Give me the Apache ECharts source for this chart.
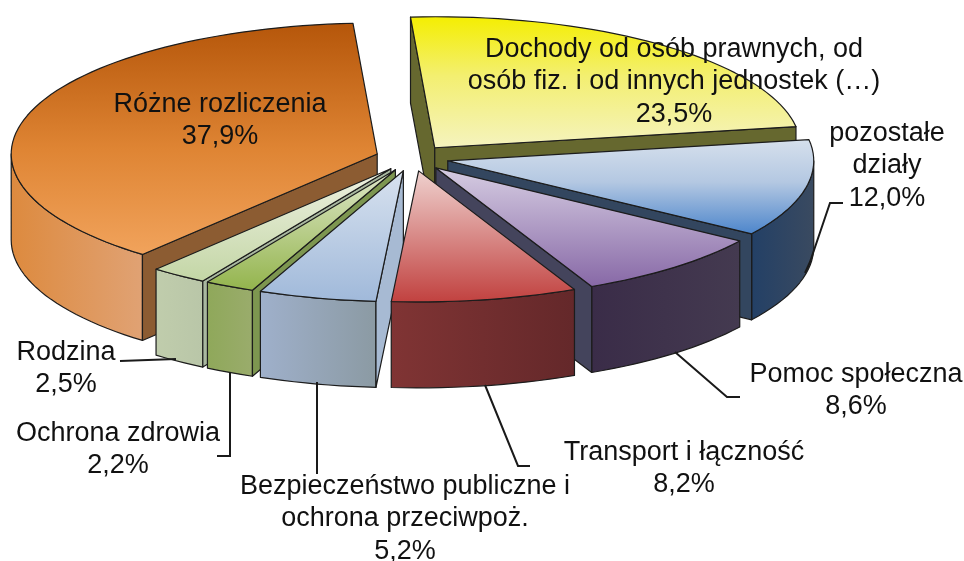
<!DOCTYPE html>
<html><head><meta charset="utf-8">
<style>html,body{margin:0;padding:0;background:#fff}#c{width:964px;height:561px}</style>
<script src="https://cdn.jsdelivr.net/npm/echarts@6/dist/echarts.min.js"></script>
</head><body><div id="c"></div>
<script>
const categories = ['Dochody od osób prawnych, od\nosób fiz. i od innych jednostek (…)','pozostałe\ndziały','Pomoc społeczna','Transport i łączność','Bezpieczeństwo publiczne i\nochrona przeciwpoż.','Ochrona zdrowia','Rodzina','Różne rozliczenia'];
const shares = [23.5,12.0,8.6,8.2,5.2,2.2,2.5,37.9];
const shareText = ['23,5%','12,0%','8,6%','8,2%','5,2%','2,2%','2,5%','37,9%'];
const drawRank = [0,2,6,7,5,4,3,1];
const topColors = [[[0,'#f4ee00'],[0.45,'#f3ef70'],[1,'#f5f3bf']],[[0,'#d6e0ec'],[0.45,'#b4c8e2'],[1,'#4c85cb']],[[0,'#d6cde2'],[1,'#8768a6']],[[0,'#efd2cf'],[1,'#c1413f']],[[0,'#d8e2ef'],[1,'#a0b9da']],[[0,'#dfe8cb'],[1,'#93b44c']],[[0,'#eef1e2'],[1,'#c3d6a5']],[[0,'#b5560a'],[0.55,'#df8534'],[1,'#f1a35c']]];
const sideColors = [['#66662f','#66662f'],['#234066','#3a4a60'],['#3a2c48','#443a50'],['#803434','#64282a'],['#9fb0cb','#8b9aa3'],['#8fa85a','#9aac6c'],['#c0cdac','#b9c6a8'],['#dd8a3e','#e0a274']];
const wallColors = ['#66682f','#33465f','#44445c','#5a2a2a','#a7bad3','#7d9650','#a9b8a0','#8c5c32'];
const labelX = [674,887,856,684,405,118,66,220];
const labelY = [33,117,358,436,470,417,336,88];
const leaders = [[[843,203],[830,203],[810,262],[805,273]],[[740,397],[727,397],[675,352]],[[530,466],[518,466],[485,385]],[[317,474],[317,382]],[[217,456],[230,456],[230,372]],[[120,361],[176,359]]];

const cx=412, cy=158, rx=366, ry=131, depth=86, explode=0.1, startDeg=-3.8;
const total=shares.reduce((a,b)=>a+b,0);
const rad=d=>d*Math.PI/180;
const starts=[];let acc=startDeg;
shares.forEach(s=>{starts.push(acc);acc+=s/total*360;});

function stops(a){return a.map(s=>({offset:s[0],color:s[1]}));}
function renderItem(params,api){
  const i=params.dataIndex, share=api.value(0);
  const t1=starts[i], t2=t1+share/total*360, mid=(t1+t2)/2;
  const ax=cx+explode*rx*Math.sin(rad(mid)), ay=cy-explode*ry*Math.cos(rad(mid));
  const pt=(t,dz)=>[ax+rx*Math.sin(rad(t)),ay-ry*Math.cos(rad(t))+(dz||0)];
  const arc=(a,b,dz)=>{const n=Math.max(2,Math.ceil(Math.abs(b-a)/2)),o=[];for(let k=0;k<=n;k++)o.push(pt(a+(b-a)*k/n,dz));return o;};
  const stroke='#1c1c1c', base=drawRank[i]*10, kids=[];
  const poly=(points,fill,z)=>kids.push({type:'polygon',z2:base+z,shape:{points},style:{fill,stroke,lineWidth:1.2,lineJoin:'round'},silent:true});
  const lo=Math.max(t1,90), hi=Math.min(t2,270);
  if(hi>lo){
    poly(arc(lo,hi,0).concat(arc(hi,lo,depth)),new echarts.graphic.LinearGradient(0,0,1,0,[{offset:0,color:sideColors[i][0]},{offset:1,color:sideColors[i][1]}]),1);
  }
  const wall=(t)=>poly([[ax,ay],pt(t,0),pt(t,depth),[ax,ay+depth]],wallColors[i],2);
  if(Math.sin(rad(t1))<0) wall(t1);
  if(Math.sin(rad(t2))>0) wall(t2);
  poly([[ax,ay]].concat(arc(t1,t2,0)),new echarts.graphic.LinearGradient(0,0,0,1,stops(topColors[i])),3);
  return {type:'group',children:kids};
}

const graphics=[];
leaders.forEach(p=>graphics.push({type:'polyline',z:5,shape:{points:p},style:{fill:null,stroke:'#1a1a1a',lineWidth:2},silent:true}));
categories.forEach((c,i)=>graphics.push({type:'text',z:10,x:labelX[i],y:labelY[i],style:{text:c+'\n'+shareText[i],fill:'#111',font:'27px "Liberation Sans", Arial, sans-serif',textAlign:'center',textVerticalAlign:'top',lineHeight:32.5},silent:true}));

const chart=echarts.init(document.getElementById('c'),null,{renderer:'canvas'});
chart.setOption({animation:false,backgroundColor:'#fff',
  series:[{type:'custom',coordinateSystem:'none',renderItem,data:shares.map((s,i)=>({name:categories[i],value:[s]})),silent:true,z:2}],
  graphic:graphics});
</script></body></html>
